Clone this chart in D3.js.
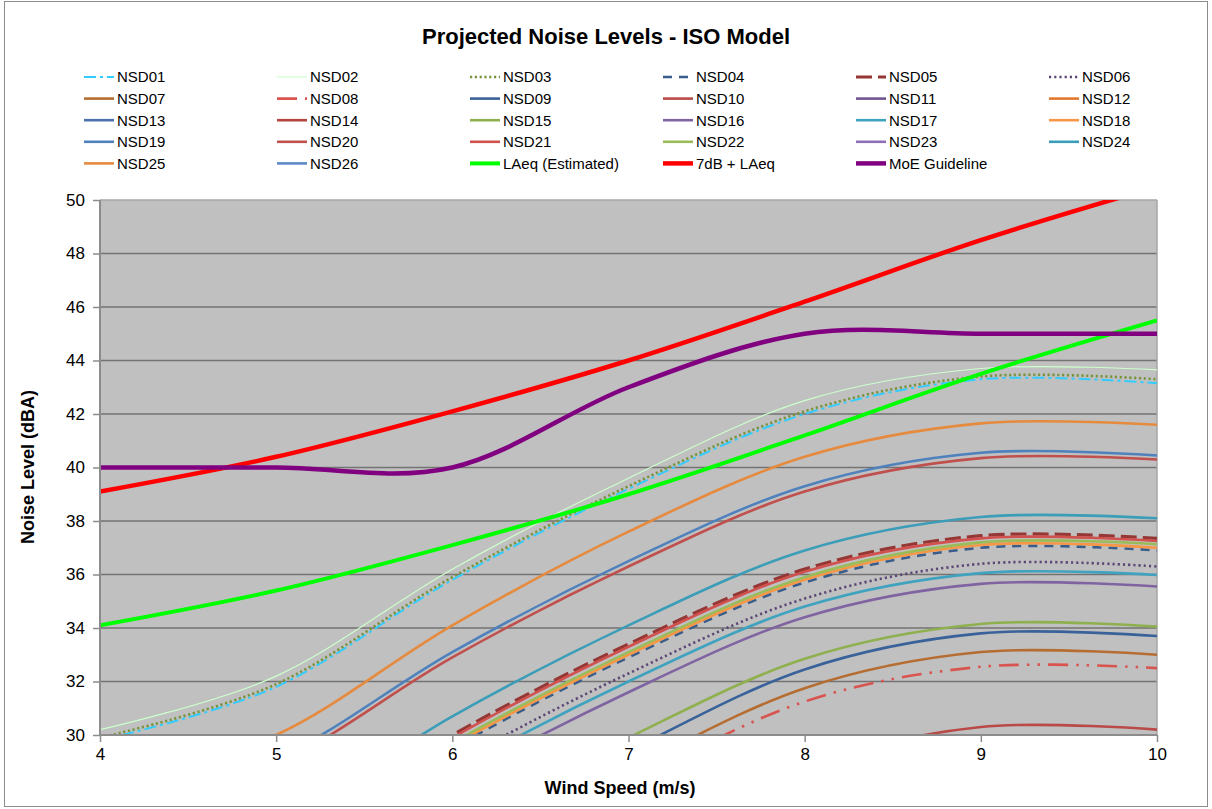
<!DOCTYPE html>
<html><head><meta charset="utf-8">
<script src="https://cdn.jsdelivr.net/npm/d3@7"></script>
<style>
body{margin:0;background:#fff;}
svg{display:block;font-family:"Liberation Sans",Arial,sans-serif;}
</style>
</head><body>
<svg id="chart" width="1212" height="809"></svg>
<script>
// Wind speed categories (m/s)
const windSpeed = [4, 5, 6, 7, 8, 9, 10];
const yTicks = [30, 32, 34, 36, 38, 40, 42, 44, 46, 48, 50];
const xTicks = [4, 5, 6, 7, 8, 9, 10];

// Projected noise level (dBA) at each receptor, per wind speed
const nsd01 = [29.8, 31.8, 35.8, 39.2, 42.0, 43.3, 43.15];
const nsd02 = [30.2, 32.2, 36.2, 39.6, 42.5, 43.7, 43.65];
const nsd03 = [29.9, 31.9, 35.9, 39.3, 42.1, 43.4, 43.3];
const nsd04 = [23.5, 25.5, 29.5, 32.9, 35.7, 37.0, 36.9];
const nsd05 = [24.0, 26.0, 30.0, 33.4, 36.2, 37.45, 37.35];
const nsd06 = [22.9, 24.9, 28.9, 32.3, 35.1, 36.4, 36.3];
const nsd07 = [19.4, 21.4, 25.3, 28.7, 31.75, 33.1, 33.0];
const nsd08 = [18.9, 20.9, 24.8, 28.2, 31.25, 32.55, 32.5];
const nsd09 = [20.1, 22.1, 26.0, 29.4, 32.45, 33.8, 33.7];
const nsd10 = [16.6, 18.6, 22.5, 25.9, 28.85, 30.3, 30.2];
const nsd11 = [14.5, 16.5, 20.5, 23.9, 26.7, 28.0, 27.9];
const nsd12 = [15.9, 17.9, 21.9, 25.3, 28.1, 29.4, 29.3];
const nsd13 = [13.2, 15.2, 19.2, 22.6, 25.4, 26.7, 26.6];
const nsd14 = [12.1, 14.1, 18.1, 21.5, 24.3, 25.6, 25.5];
const nsd15 = [20.6, 22.6, 26.5, 29.9, 32.85, 34.15, 34.05];
const nsd16 = [22.2, 24.2, 28.2, 31.6, 34.4, 35.65, 35.55];
const nsd17 = [22.6, 24.6, 28.6, 32.0, 34.8, 36.05, 35.98];
const nsd18 = [23.6, 25.6, 29.6, 33.0, 35.8, 37.1, 37.0];
const nsd19 = [27.1, 29.1, 33.1, 36.5, 39.3, 40.55, 40.45];
const nsd20 = [26.9, 28.9, 32.9, 36.3, 39.1, 40.35, 40.3];
const nsd21 = [23.9, 25.9, 29.9, 33.3, 36.1, 37.35, 37.25];
const nsd22 = [23.7, 25.7, 29.7, 33.1, 35.9, 37.2, 37.13];
const nsd23 = [10.9, 12.9, 16.9, 20.3, 23.1, 24.4, 24.3];
const nsd24 = [24.7, 26.7, 30.7, 34.1, 36.9, 38.15, 38.1];
const nsd25 = [28.1, 30.0, 34.1, 37.6, 40.4, 41.65, 41.6];
const nsd26 = [14.9, 16.9, 20.9, 24.3, 27.1, 28.4, 28.3];
const laeq  = [34.1, 35.4, 37.1, 39.0, 41.2, 43.5, 45.5];
const laeq7 = [39.1, 40.4, 42.1, 44.0, 46.2, 48.5, 50.5];
const moe   = [40, 40, 40, 43, 45, 45, 45];

// Series drawing styles
const series = [
  {name: "NSD01", values: nsd01, color: "#33CCFF", width: 2,   dash: "12,4,3,4"},
  {name: "NSD02", values: nsd02, color: "#CCFFCC", width: 1.2, dash: null},
  {name: "NSD03", values: nsd03, color: "#77933C", width: 2.6, dash: "2.2,2.6"},
  {name: "NSD04", values: nsd04, color: "#385D8A", width: 2.6, dash: "9,7"},
  {name: "NSD05", values: nsd05, color: "#953735", width: 3.2, dash: "16,6"},
  {name: "NSD06", values: nsd06, color: "#5C4776", width: 2.6, dash: "2.2,3"},
  {name: "NSD07", values: nsd07, color: "#B66D31", width: 2.6, dash: null},
  {name: "NSD08", values: nsd08, color: "#D9534F", width: 2.6, dash: "20,8,2.5,8,2.5,8"},
  {name: "NSD09", values: nsd09, color: "#3A629A", width: 2.6, dash: null},
  {name: "NSD10", values: nsd10, color: "#B94A48", width: 2.6, dash: null},
  {name: "NSD11", values: nsd11, color: "#6F5591", width: 2.6, dash: null},
  {name: "NSD12", values: nsd12, color: "#E0782E", width: 2.6, dash: null},
  {name: "NSD13", values: nsd13, color: "#4A73AE", width: 2.6, dash: null},
  {name: "NSD14", values: nsd14, color: "#B5443F", width: 2.6, dash: null},
  {name: "NSD15", values: nsd15, color: "#8EB04E", width: 2.6, dash: null},
  {name: "NSD16", values: nsd16, color: "#8064A2", width: 2.6, dash: null},
  {name: "NSD17", values: nsd17, color: "#3FA3BF", width: 2.6, dash: null},
  {name: "NSD18", values: nsd18, color: "#F79646", width: 2.6, dash: null},
  {name: "NSD19", values: nsd19, color: "#4F81BD", width: 2.6, dash: null},
  {name: "NSD20", values: nsd20, color: "#C0504D", width: 2.6, dash: null},
  {name: "NSD21", values: nsd21, color: "#D0514E", width: 2.6, dash: null},
  {name: "NSD22", values: nsd22, color: "#9BBB59", width: 2.6, dash: null},
  {name: "NSD23", values: nsd23, color: "#8F6FB5", width: 2.6, dash: null},
  {name: "NSD24", values: nsd24, color: "#3B9DB8", width: 2.6, dash: null},
  {name: "NSD25", values: nsd25, color: "#E68A3E", width: 2.6, dash: null},
  {name: "NSD26", values: nsd26, color: "#5B8AC6", width: 2.6, dash: null},
  {name: "LAeq (Estimated)", values: laeq,  color: "#00FF00", width: 4,   dash: null},
  {name: "7dB + LAeq",       values: laeq7, color: "#FF0000", width: 4.5, dash: null},
  {name: "MoE Guideline",    values: moe,   color: "#800080", width: 4.5, dash: null}
];

const svg = d3.select("#chart");
const plot = {left: 100, right: 1157, top: 200, bottom: 735};

const x = d3.scaleLinear().domain([4, 10]).range([plot.left, plot.right]);
const y = d3.scaleLinear().domain([30, 50]).range([plot.bottom, plot.top]);

// Outer chart frame
svg.append("rect")
  .attr("x", 4.5).attr("y", 1.5).attr("width", 1203).attr("height", 805)
  .attr("fill", "#fff").attr("stroke", "#8c8c8c").attr("stroke-width", 1);

// Title
svg.append("text")
  .attr("x", 606).attr("y", 44)
  .attr("text-anchor", "middle")
  .style("font-size", "22px").style("font-weight", "bold")
  .text("Projected Noise Levels - ISO Model");

// Plot background
svg.append("rect")
  .attr("x", plot.left).attr("y", plot.top)
  .attr("width", plot.right - plot.left).attr("height", plot.bottom - plot.top)
  .attr("fill", "#C0C0C0");

// Horizontal gridlines
svg.append("g")
  .selectAll("line")
  .data(yTicks.filter(v => v > 30 && v < 50))
  .join("line")
  .attr("x1", plot.left).attr("x2", plot.right)
  .attr("y1", d => y(d)).attr("y2", d => y(d))
  .attr("stroke", "#737373").attr("stroke-width", 1.6);

// Plot border (top/right light, left/bottom axis)
svg.append("line")
  .attr("x1", plot.left).attr("x2", plot.right)
  .attr("y1", plot.top).attr("y2", plot.top)
  .attr("stroke", "#a6a6a6").attr("stroke-width", 1.5);
svg.append("line")
  .attr("x1", plot.right).attr("x2", plot.right)
  .attr("y1", plot.top).attr("y2", plot.bottom)
  .attr("stroke", "#a6a6a6").attr("stroke-width", 1.5);

// Series lines, clipped to the plot area
svg.append("clipPath").attr("id", "plotClip")
  .append("rect")
  .attr("x", plot.left).attr("y", plot.top)
  .attr("width", plot.right - plot.left).attr("height", plot.bottom - plot.top);

const line = d3.line()
  .x((d, i) => x(windSpeed[i]))
  .y(d => y(d))
  .curve(d3.curveCardinal.tension(0));

svg.append("g").attr("clip-path", "url(#plotClip)")
  .selectAll("path")
  .data(series)
  .join("path")
  .attr("d", d => line(d.values))
  .attr("fill", "none")
  .attr("stroke", d => d.color)
  .attr("stroke-width", d => d.width)
  .attr("stroke-dasharray", d => d.dash)
  .attr("stroke-linejoin", "round");

// Y axis
const yAxis = svg.append("g")
  .attr("transform", `translate(${plot.left},0)`)
  .call(d3.axisLeft(y).tickValues(yTicks).tickSize(7).tickPadding(8).tickFormat(d3.format("d")));
yAxis.select(".domain").remove();
yAxis.selectAll(".tick line").attr("stroke", "#8c8c8c").attr("stroke-width", 1.5);
yAxis.selectAll(".tick text")
  .style("font-size", "17px").attr("fill", "#000")
  .style("font-family", "'Liberation Sans',Arial,sans-serif");
svg.append("line")
  .attr("x1", plot.left).attr("x2", plot.left)
  .attr("y1", plot.top).attr("y2", plot.bottom + 0.5)
  .attr("stroke", "#8c8c8c").attr("stroke-width", 2);

// X axis
const xAxis = svg.append("g")
  .attr("transform", `translate(0,${plot.bottom})`)
  .call(d3.axisBottom(x).tickValues(xTicks).tickSize(7).tickPadding(6).tickFormat(d3.format("d")));
xAxis.select(".domain").remove();
xAxis.selectAll(".tick line").attr("stroke", "#8c8c8c").attr("stroke-width", 1.5);
xAxis.selectAll(".tick text")
  .style("font-size", "17px").attr("fill", "#000")
  .style("font-family", "'Liberation Sans',Arial,sans-serif");
svg.append("line")
  .attr("x1", plot.left).attr("x2", plot.right)
  .attr("y1", plot.bottom).attr("y2", plot.bottom)
  .attr("stroke", "#8c8c8c").attr("stroke-width", 2);

// Axis titles
svg.append("text")
  .attr("x", 620).attr("y", 794)
  .attr("text-anchor", "middle")
  .style("font-size", "18px").style("font-weight", "bold")
  .text("Wind Speed (m/s)");
svg.append("text")
  .attr("transform", "translate(34,467) rotate(-90)")
  .attr("text-anchor", "middle")
  .style("font-size", "18px").style("font-weight", "bold")
  .text("Noise Level (dBA)");

// Legend: six columns, filled row by row
const legendCols = 6, colStep = 193, rowStep = 21.6;
const legend = svg.append("g")
  .selectAll("g")
  .data(series)
  .join("g")
  .attr("transform", (d, i) =>
    `translate(${84 + (i % legendCols) * colStep},${77 + Math.floor(i / legendCols) * rowStep})`);
legend.append("line")
  .attr("x1", 0).attr("x2", 30).attr("y1", 0).attr("y2", 0)
  .attr("stroke", d => d.color)
  .attr("stroke-width", d => d.width)
  .attr("stroke-dasharray", d => d.dash);
legend.append("text")
  .attr("x", 33).attr("y", 0).attr("dy", "0.36em")
  .style("font-size", "15px")
  .text(d => d.name);
</script>
</body></html>
